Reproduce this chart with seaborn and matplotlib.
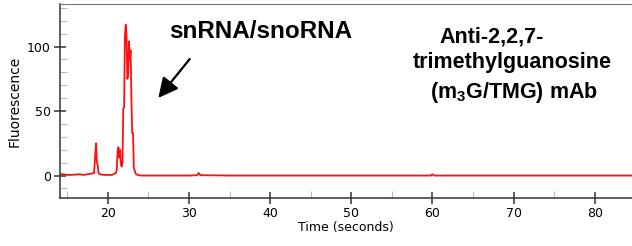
import numpy as np
import pandas as pd
import matplotlib
matplotlib.use("Agg")
import matplotlib.pyplot as plt
from matplotlib.ticker import MultipleLocator
import seaborn as sns

# chromatogram trace
time_s = [14.1, 14.5, 15.0, 15.5, 16.0, 16.5, 17.0, 17.5, 18.0, 18.3, 18.45, 18.55,
          18.65, 18.75, 18.85, 19.0, 19.5, 20.0, 20.5, 21.0, 21.1, 21.2, 21.3, 21.4,
          21.5, 21.6, 21.7, 21.8, 21.9, 22.0, 22.1, 22.2, 22.3, 22.4, 22.5, 22.6,
          22.7, 22.8, 22.9, 23.0, 23.1, 23.2, 23.3, 23.4, 23.5, 23.7, 24.0, 25.0,
          30.0, 31.0, 31.2, 31.4, 35.0, 59.8, 60.0, 60.2, 70.0, 84.6]
fluor = [1.0, 1.0, 0.5, 0.5, 0.8, 1.0, 0.5, 1.0, 1.5, 2.0, 17.0, 25.0,
         10.0, 8.0, 2.0, 1.0, 0.5, 0.5, 0.5, 2.0, 5.0, 19.0, 22.0, 14.0,
         20.0, 9.0, 7.0, 10.0, 52.0, 53.0, 108.0, 117.0, 108.0, 75.0, 78.0, 104.0,
         90.0, 97.0, 60.0, 33.0, 33.0, 6.0, 4.0, 2.0, 1.0, 0.5, 0.0, 0.0,
         0.0, 0.3, 2.0, 0.3, 0.0, 0.0, 1.0, 0.0, 0.0, 0.0]

peak_label = "snRNA/snoRNA"
antibody_lines = ["Anti-2,2,7-", "trimethylguanosine", r"(m$_\mathbf{3}$G/TMG) mAb"]

df = pd.DataFrame({"time": time_s, "fluorescence": fluor})

sns.set_style("ticks")
plt.rcParams["font.family"] = ["DejaVu Sans"]
plt.rcParams["text.color"] = "black"
plt.rcParams["axes.labelcolor"] = "black"
plt.rcParams["xtick.labelcolor"] = "black"
plt.rcParams["ytick.labelcolor"] = "black"
plt.rcParams["mathtext.fontset"] = "custom"
plt.rcParams["mathtext.bf"] = "Liberation Sans:bold"
plt.rcParams["mathtext.rm"] = "Liberation Sans:bold"

fig = plt.figure(figsize=(6.32, 2.46), dpi=100)
ax = fig.add_axes([60 / 632, 1 - 198 / 246, 1 - 60 / 632, (198 - 4) / 246])

sns.lineplot(data=df, x="time", y="fluorescence", color="#ff1010", lw=1.3, ax=ax)

ax.set_xlim(14.1, 84.6)
ax.set_ylim(-17.4, 133)
ax.xaxis.set_major_locator(MultipleLocator(10))
ax.xaxis.set_minor_locator(MultipleLocator(5))
ax.yaxis.set_major_locator(MultipleLocator(50))
ax.yaxis.set_minor_locator(MultipleLocator(10))
ax.tick_params(which="major", direction="inout", length=9, width=1.1,
               color="#333333", labelsize=9, pad=2)
ax.tick_params(which="minor", direction="in", length=5, width=0.8, color="#bbbbbb")

for side in ["left", "bottom"]:
    ax.spines[side].set_color("#333333")
    ax.spines[side].set_linewidth(1.1)
ax.spines["top"].set_color("#777777")
ax.spines["right"].set_visible(False)

ax.set_xlabel("Time (seconds)", fontsize=9, labelpad=1)
ax.set_ylabel("Fluorescence", fontsize=10, labelpad=4)

bold = dict(family="Liberation Sans", fontweight="bold", ha="center", va="center",
            color="black")
ax.text(38.8, 111.5, peak_label, fontsize=17.5, **bold)
ax.annotate("", xy=(26.0, 58.5), xytext=(30.3, 92),
            arrowprops=dict(arrowstyle="-|>,head_length=1.2,head_width=0.6",
                            color="black", lw=1.6))
for xv, yv, line in zip([67.3, 69.8, 70.0], [107.6, 87.3, 64.7], antibody_lines):
    ax.text(xv, yv, line, fontsize=15.5, **bold)

fig.savefig("out.png", dpi=100)
